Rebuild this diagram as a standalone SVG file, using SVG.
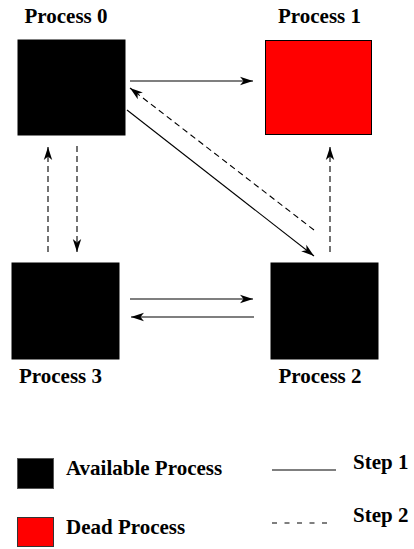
<svg xmlns="http://www.w3.org/2000/svg" width="414" height="549" viewBox="0 0 414 549">
  <style>
    .label { font-family: "Liberation Serif", "Times New Roman", serif; font-weight: bold; font-size: 21px; fill: #000; }
    .box { fill: #000; stroke: #000; stroke-width: 1; }
    .dead { fill: #ff0000; stroke: #000; stroke-width: 1; }
    .link { fill: none; stroke: #000; stroke-width: 1.1; }
    .dash { stroke-dasharray: 6 4; }
  </style>
  <defs>
    <marker id="head" markerUnits="userSpaceOnUse" viewBox="-13 -5 14 10" refX="0" refY="0" markerWidth="14" markerHeight="10" orient="auto">
      <path d="M0,0 L-13,-4.2 L-9.5,0 L-13,4.2 Z" fill="#000"/>
    </marker>
  </defs>
  <rect width="414" height="549" fill="#fff"/>

  <g id="process0">
    <text class="label" x="66" y="23" text-anchor="middle">Process 0</text>
    <rect class="box" x="18" y="40" width="107" height="95"/>
  </g>
  <g id="process1">
    <text class="label" x="319.5" y="23" text-anchor="middle">Process 1</text>
    <rect class="dead" x="265.5" y="40.5" width="106" height="94"/>
  </g>
  <g id="process3">
    <rect class="box" x="12" y="263" width="107" height="96"/>
    <text class="label" x="60.5" y="383" text-anchor="middle">Process 3</text>
  </g>
  <g id="process2">
    <rect class="box" x="271" y="263" width="107" height="96"/>
    <text class="label" x="320" y="383" text-anchor="middle">Process 2</text>
  </g>

  <g id="connectors">
    <!-- step 1: solid -->
    <line class="link" x1="130" y1="81" x2="253" y2="81" marker-end="url(#head)"/>
    <line class="link" x1="127" y1="110" x2="314" y2="256" marker-end="url(#head)"/>
    <line class="link" x1="130" y1="299" x2="253" y2="299" marker-end="url(#head)"/>
    <line class="link" x1="254" y1="317" x2="131" y2="317" marker-end="url(#head)"/>
    <!-- step 2: dashed -->
    <line class="link dash" x1="314" y1="230" x2="130" y2="88" marker-end="url(#head)"/>
    <line class="link dash" x1="330" y1="252" x2="330" y2="147" marker-end="url(#head)"/>
    <line class="link dash" x1="48" y1="252" x2="48" y2="147" marker-end="url(#head)"/>
    <line class="link dash" x1="77" y1="146" x2="77" y2="252" marker-end="url(#head)"/>
  </g>

  <g id="legend">
    <rect x="17.5" y="458.5" width="36" height="30" fill="#000" stroke="#555" stroke-width="1"/>
    <text class="label" x="66" y="475">Available Process</text>
    <rect x="17.5" y="517.5" width="36" height="29" fill="#ff0000" stroke="#333" stroke-width="1"/>
    <text class="label" x="66" y="534">Dead Process</text>
    <line class="link" x1="272" y1="470" x2="336" y2="470"/>
    <text class="label" x="353" y="469">Step 1</text>
    <line class="link" x1="272" y1="523" x2="327" y2="523" stroke-dasharray="5 7.5"/>
    <text class="label" x="353" y="522">Step 2</text>
  </g>
</svg>
